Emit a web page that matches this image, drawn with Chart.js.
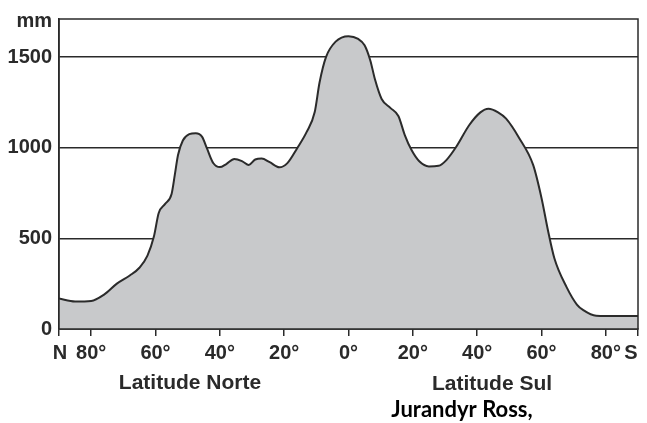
<!DOCTYPE html>
<html>
<head>
<meta charset="utf-8">
<script src="https://cdn.jsdelivr.net/npm/chart.js@4/dist/chart.umd.min.js"></script>
<style>
  html, body { margin: 0; padding: 0; background: #ffffff; }
  #wrap { width: 647px; height: 423px; position: relative; }
</style>
</head>
<body>
<div id="wrap"><canvas id="c" width="647" height="423"></canvas></div>
<script>
// Latitude (negative = North, positive = South)
const latitudes = [-90, -85, -80, -76, -72, -68, -65, -62.5, -60.5, -59, -57, -55, -54, -53, -51.5, -49.5, -47.5, -45.5, -44, -42, -40, -38, -35.5, -33, -31, -29, -27, -24.5, -21.5, -19, -16, -13, -10.5, -9, -7, -4, 0, 3, 5, 6.8, 8.2, 10.3, 13, 15.5, 17.5, 19.6, 22, 25, 28, 30.5, 33.5, 37.5, 41, 43.5, 46.5, 49, 53, 57.4, 60, 62, 64, 67.8, 71, 73, 77, 80, 90];
// Precipitation (mm)
const precipitation = [168, 152, 155, 190, 250, 295, 338, 405, 510, 640, 690, 745, 850, 960, 1040, 1075, 1080, 1060, 996, 914, 893, 910, 938, 925, 905, 935, 940, 920, 892, 915, 996, 1087, 1197, 1360, 1500, 1585, 1615, 1600, 1565, 1480, 1379, 1269, 1220, 1175, 1070, 987, 925, 897, 900, 933, 1005, 1124, 1195, 1215, 1195, 1160, 1055, 905, 723, 545, 390, 231, 135, 104, 73, 72, 72];
const xTicks = [-90, -80, -60, -40, -20, 0, 20, 40, 60, 80, 90];
const yTicks = [0, 500, 1000, 1500];
const yMax = 1710;
const yUnit = 'mm';
const northLabel = 'N';
const southLabel = 'S';
const northTitle = 'Latitude Norte';
const southTitle = 'Latitude Sul';
const author = 'Jurandyr Ross,';

const points = latitudes.map((lat, i) => ({ x: lat, y: precipitation[i] }));
const ink = '#2a2a2a';
const fam = "Arial, 'Liberation Sans', sans-serif";
const tickFont = { family: fam, size: 20, weight: 'bold' };

const overlay = {
  id: 'overlay',
  afterDraw(chart) {
    const ctx = chart.ctx;
    const a = chart.chartArea;
    ctx.save();
    ctx.strokeStyle = ink;
    ctx.lineWidth = 1.5;
    ctx.strokeRect(a.left, a.top, a.right - a.left, a.bottom - a.top);
    ctx.fillStyle = ink;
    ctx.font = 'bold 20px ' + fam;
    ctx.textBaseline = 'middle';
    ctx.textAlign = 'right';
    ctx.fillText(yUnit, a.left - 7, a.top + 2);
    ctx.textAlign = 'center';
    const xs = chart.scales.x;
    ctx.fillText(northLabel, xs.getPixelForValue(-90) + 1, 353);
    ctx.fillText(southLabel, xs.getPixelForValue(90) - 7, 353);
    ctx.font = 'bold 21px ' + fam;
    ctx.fillText(northTitle, 190, 383);
    ctx.fillText(southTitle, 492, 384);
    ctx.fillStyle = '#000';
    ctx.font = "bold 22px Lato, 'Open Sans', sans-serif";
    ctx.fillText(author, 462, 410);
    ctx.restore();
  }
};

new Chart(document.getElementById('c'), {
  type: 'line',
  data: {
    datasets: [{
      data: points,
      fill: 'origin',
      backgroundColor: '#c8c9cb',
      borderColor: '#2b2b2b',
      borderWidth: 2,
      pointRadius: 0,
      cubicInterpolationMode: 'monotone'
    }]
  },
  options: {
    responsive: false,
    animation: false,
    devicePixelRatio: 1,
    layout: { padding: { left: 0, right: 9, top: 16, bottom: 0 } },
    plugins: { legend: { display: false }, tooltip: { enabled: false } },
    scales: {
      x: {
        type: 'linear',
        min: -90, max: 90,
        afterBuildTicks: s => { s.ticks = xTicks.map(v => ({ value: v })); },
        afterFit: s => { s.height = 94; },
        grid: { drawOnChartArea: false, drawTicks: true, tickLength: 7, color: ink, lineWidth: 1.5 },
        border: { display: true, color: ink, width: 1.5 },
        ticks: {
          autoSkip: false, maxRotation: 0, padding: 5,
          color: ink, font: tickFont,
          callback: v => (Math.abs(v) === 90 ? '' : Math.abs(v) + '°')
        }
      },
      y: {
        min: 0, max: yMax,
        z: 1,
        afterBuildTicks: s => { s.ticks = yTicks.map(v => ({ value: v })); },
        afterFit: s => { s.width = 59; },
        grid: { drawTicks: false, color: ink, lineWidth: 1.5 },
        border: { display: true, color: ink, width: 1.5 },
        ticks: { padding: 7, color: ink, font: tickFont, callback: v => String(v) }
      }
    }
  },
  plugins: [overlay]
});
</script>
</body>
</html>
